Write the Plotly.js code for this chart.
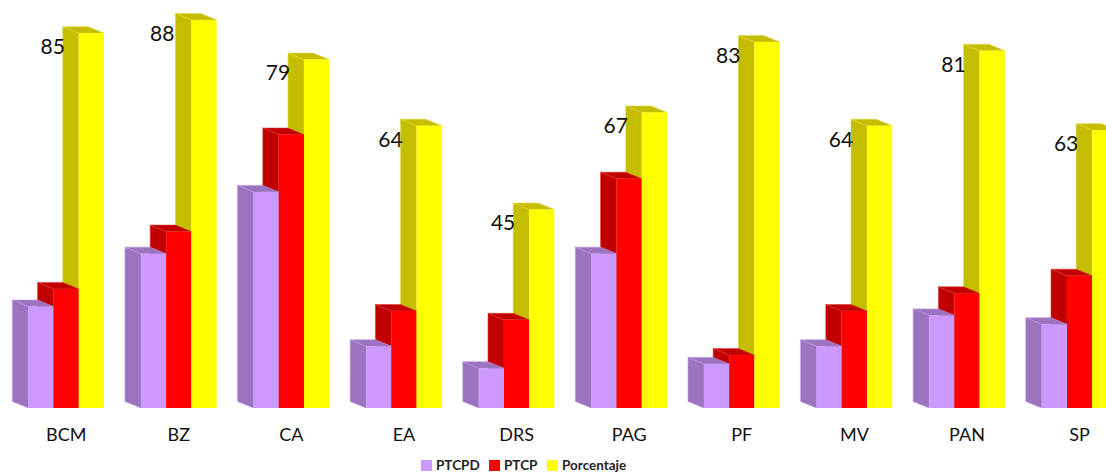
<!DOCTYPE html>
<html>
<head>
<meta charset="utf-8">
<script src="https://cdn.plot.ly/plotly-3.0.1.min.js"></script>
<style>html,body{margin:0;padding:0;background:#fff;overflow:hidden}</style>
</head>
<body>
<div id="chart" style="width:1106px;height:473px"></div>
<script>
const categories = ["BCM","BZ","CA","EA","DRS","PAG","PF","MV","PAN","SP"];
const ptcpd = [23,35,49,14,9,35,10,14,21,19];
const ptcp = [27,40,62,22,20,52,12,22,26,30];
const porcentaje = [85,88,79,64,45,67,83,64,81,63];
const seriesNames = ["PTCPD","PTCP","Porcentaje"];
const seriesColors = ["#CC99FF","#FF0000","#FFFF00"];

const W = 1106, H = 473, BASE = 408, SPACING = 112.6, CX0 = 66.2, PXY = 4.41;
const xRange = [(0 - CX0) / SPACING, (W - CX0) / SPACING];
const yRange = [0, BASE / PXY];
const BW = 25.2 / SPACING;
const DX = -16 / SPACING, DY = 6.5 / PXY;
const idx = categories.map((_, i) => i);
const labelShiftPx = idx.map(i => i === 1 ? -16.5 : -13.5);

function faces(values, k, fill, edge) {
  const xs = [], ys = [];
  values.forEach((v, i) => {
    const xl = i + (k - 1.5) * BW, xr = xl + BW;
    xs.push(xl, xl + DX, xl + DX, xl, xl, null, xl, xl + DX, xr + DX, xr, xl, null);
    ys.push(0, DY, v + DY, v, 0, null, v, v + DY, v + DY, v, v, null);
  });
  return {type:"scatter", mode:"lines", x:xs, y:ys, fill:"toself", fillcolor:fill,
          line:{color:edge, width:0.6}, hoverinfo:"skip", showlegend:false, xaxis:"x", yaxis:"y"};
}
function front(k, values) {
  return {type:"bar", name:seriesNames[k], x:idx, y:values, marker:{color:seriesColors[k], line:{width:0}},
          showlegend:false, xaxis:"x2", yaxis:"y2"};
}

const traces = [
  faces(porcentaje, 2, "#C5BE00", "#DDD640"),
  faces(ptcp, 1, "#C00000", "#DD3A3A"),
  faces(ptcpd, 0, "#9B73BF", "#BC94E0"),
  front(0, ptcpd),
  front(1, ptcp),
  front(2, porcentaje),
  {type:"scatter", mode:"text", x:idx.map(i => i + labelShiftPx[i] / SPACING), y:porcentaje.map(v => v - 15.5 / PXY),
   text:porcentaje.map(String), textposition:"middle center",
   textfont:{family:"Lato, sans-serif", size:21, color:"#111"},
   hoverinfo:"skip", showlegend:false, cliponaxis:false, xaxis:"x2", yaxis:"y2"}
];

// Legend key: swatch left edge and label left edge, in page pixels
const keySwatchX = [421, 489, 547];
const keyLabelX = [436, 504, 562];
const keyTop = 460, keyBottom = 471, keyMid = 464.5;
const px = p => p / W, py = p => (BASE - p) / BASE;

const layout = {
  width:W, height:H,
  margin:{l:0, r:0, t:0, b:H - BASE, pad:0, autoexpand:false},
  paper_bgcolor:"#fff", plot_bgcolor:"#fff",
  barmode:"group", bargap:1 - 3 * BW, bargroupgap:0,
  showlegend:false,
  xaxis:{range:xRange, tickvals:idx, ticktext:categories, showgrid:false, zeroline:false, showline:false,
         ticks:"", ticklabelstandoff:14, tickfont:{family:"Lato, sans-serif", size:18, color:"#111"}},
  yaxis:{range:yRange, visible:false, showgrid:false, zeroline:false},
  xaxis2:{range:xRange, visible:false, overlaying:"x", showgrid:false, zeroline:false},
  yaxis2:{range:yRange, visible:false, overlaying:"y", showgrid:false, zeroline:false},
  font:{family:"Lato, sans-serif"},
  shapes:seriesNames.map((_, k) => ({type:"rect", xref:"paper", yref:"paper",
    x0:px(keySwatchX[k]), x1:px(keySwatchX[k] + 11), y0:py(keyBottom), y1:py(keyTop),
    fillcolor:seriesColors[k], line:{width:0}})),
  annotations:seriesNames.map((name, k) => ({xref:"paper", yref:"paper", x:px(keyLabelX[k]), y:py(keyMid),
    text:"<b>" + name + "</b>", showarrow:false, xanchor:"left", yanchor:"middle", xshift:-1, borderpad:0,
    font:{family:"Lato, sans-serif", size:13.5, color:"#222"}}))
};
Plotly.newPlot("chart", traces, layout, {displayModeBar:false, responsive:false});
</script>
</body>
</html>
